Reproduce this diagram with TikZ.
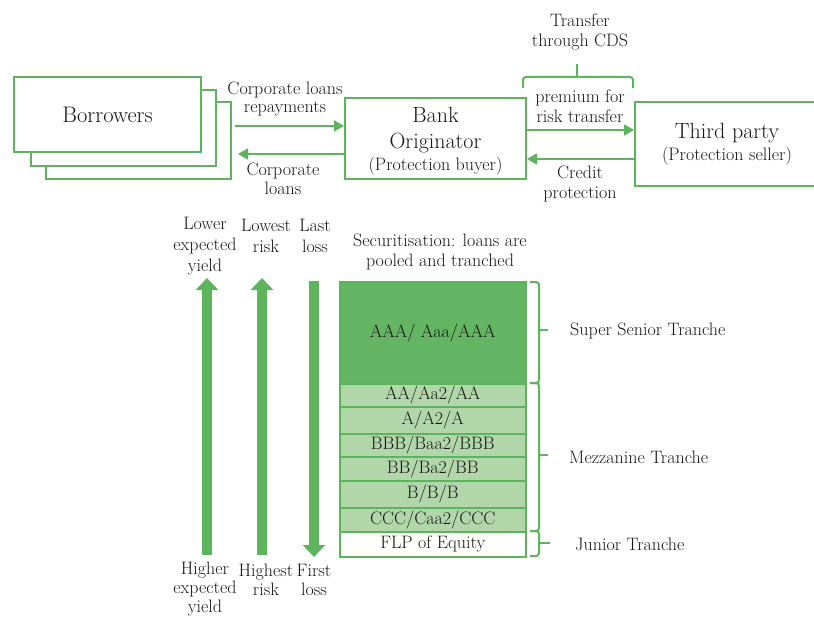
\documentclass[tikz,border=0pt]{standalone}
\usetikzlibrary{arrows.meta}
\definecolor{gline}{RGB}{92,180,92}
\definecolor{gdark}{RGB}{99,181,99}
\definecolor{glight}{RGB}{177,214,169}
\definecolor{ink}{RGB}{25,22,22}
\begin{document}
\begin{tikzpicture}[x=1pt,y=-1pt,
  box/.style={draw=gline, line width=2pt, fill=white, inner sep=0pt, anchor=north west, text=ink, align=center},
  lbl/.style={font=\fontsize{18}{20}\selectfont, text=ink, align=center, inner sep=0pt},
  conn/.style={draw=gline, line width=2pt, -{Triangle[length=10pt,width=11pt]}},
  bigarrow/.style={draw=gline, line width=10pt, -{Triangle[length=12pt,width=22pt]}},
  tranche/.style={draw=gline, line width=1.5pt, minimum width=186pt, anchor=north west, inner sep=0pt, font=\fontsize{18}{20}\selectfont, text=ink},
  bracket/.style={draw=gline, line width=2pt, rounded corners=3pt}]
\useasboundingbox (0,0) rectangle (814,618);

% stacked borrowers cards, back to front
\node[box, minimum width=185, minimum height=77] (b3) at (45,101) {};
\node[box, minimum width=185, minimum height=76] (b2) at (30,89) {};
\node[box, minimum width=187, minimum height=75, font=\fontsize{22.5}{26}\selectfont] (b1) at (13,76) {Borrowers};

% bank and protection seller
\node[box, minimum width=181, minimum height=81, font=\fontsize{22}{26}\selectfont, text depth=0pt] (bank) at (344,97)
  {\rule{0pt}{3pt}Bank\\Originator\\[-4pt]{\fontsize{18}{20}\selectfont (Protection buyer)}};
\node[box, minimum width=184, minimum height=84, font=\fontsize{22}{26}\selectfont] (third) at (634,101)
  {\rule{0pt}{4pt}Third party\\[-4pt]{\fontsize{18}{20}\selectfont (Protection seller)}};

% loan flows
\draw[conn, shorten <=3pt] (b3.east |- 0,126) -- (bank.west |- 0,126);
\draw[conn, shorten >=6pt] (bank.west |- 0,154) -- (b3.east |- 0,154);
\node[lbl, font=\fontsize{18}{18.5}\selectfont] (lrep) at (285,99) {Corporate loans\\repayments};
\node[lbl, font=\fontsize{18}{18.5}\selectfont] (lloan) at (283,179) {Corporate\\loans};

% CDS flows
\draw[conn] (bank.east |- 0,130) -- (third.west |- 0,130);
\draw[conn] (third.west |- 0,159) -- (bank.east |- 0,159);
\node[lbl] (lprem) at (580,106) {premium for\\risk transfer};
\node[lbl] (lcred) at (580,184) {Credit\\protection};
\draw[bracket] (523,88) -- (523,77) -- (633,77) -- (633,88);
\coordinate (cdstip) at (577,77);
\draw[gline, line width=2pt] (cdstip) -- ++(0,-13);
\node[lbl] (lcds) at (580,32) {Transfer\\through CDS};

% scale labels
\node[lbl, font=\fontsize{18}{21}\selectfont] (lowy) at (205,246) {Lower\\expected\\yield};
\node[lbl, font=\fontsize{18}{21}\selectfont] (lowr) at (266,236) {Lowest\\risk};
\node[lbl, font=\fontsize{18}{21}\selectfont] (lastl) at (315,236) {Last\\loss};
\node[lbl] (sec) at (440,252) {Securitisation: loans are\\pooled and tranched};
\node[lbl, font=\fontsize{18}{19}\selectfont] (hiy) at (205,589) {Higher\\expected\\yield};
\node[lbl, font=\fontsize{18}{19}\selectfont] (hir) at (266,580) {Highest\\risk};
\node[lbl, font=\fontsize{18}{19}\selectfont] (firstl) at (314,580) {First\\loss};

% thick scale arrows
\coordinate (y1a) at (207,555); \coordinate (y1b) at (207,278);
\coordinate (r1a) at (262,555); \coordinate (r1b) at (262,278);
\coordinate (l1a) at (314,281); \coordinate (l1b) at (314,557);
\draw[bigarrow] (y1a) -- (y1b);
\draw[bigarrow] (r1a) -- (r1b);
\draw[bigarrow] (l1a) -- (l1b);

% tranche stack
\node[tranche, fill=gdark, minimum height=102] (taaa) at (339,281) {AAA/ Aaa/AAA};
\node[tranche, fill=glight, minimum height=23] (taa) at (339,383) {AA/Aa2/AA};
\node[tranche, fill=glight, minimum height=27] (ta) at (339,406) {A/A2/A};
\node[tranche, fill=glight, minimum height=23] (tbbb) at (339,433) {BBB/Baa2/BBB};
\node[tranche, fill=glight, minimum height=24] (tbb) at (339,456) {BB/Ba2/BB};
\node[tranche, fill=glight, minimum height=27] (tb) at (339,480) {B/B/B};
\node[tranche, fill=glight, minimum height=24] (tccc) at (339,507) {CCC/Caa2/CCC};
\node[tranche, fill=white, minimum height=25] (tflp) at (339,531) {FLP of Equity};

% tranche brackets
\draw[bracket] (530,282) -- (539,282) -- (539,383) -- (530,383);
\draw[gline, line width=2pt] (539,330) -- (548,330);
\draw[bracket] (530,383) -- (539,383) -- (539,531) -- (530,531);
\draw[gline, line width=2pt] (539,455) -- (548,455);
\draw[bracket] (530,531) -- (539,531) -- (539,556) -- (530,556);
\draw[gline, line width=2pt] (539,543) -- (550,543);
\node[lbl, anchor=west] (lsup) at (570,331) {Super Senior Tranche};
\node[lbl, anchor=west] (lmez) at (569,457) {Mezzanine Tranche};
\node[lbl, anchor=west] (ljun) at (575,544) {Junior Tranche};
\end{tikzpicture}
\end{document}
